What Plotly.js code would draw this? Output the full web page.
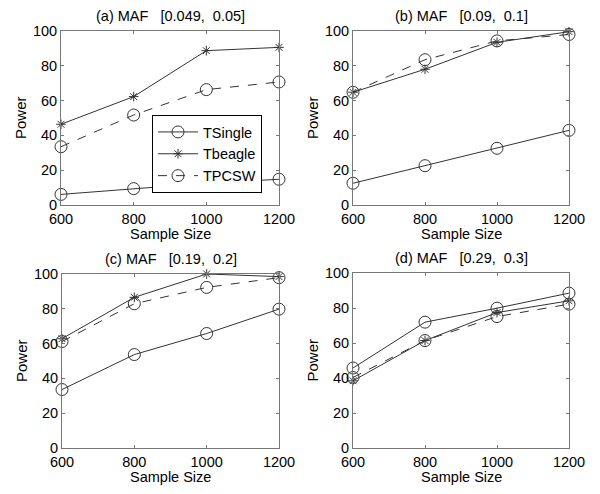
<!DOCTYPE html>
<html><head><meta charset="utf-8">
<script src="https://cdn.plot.ly/plotly-3.0.1.min.js"></script>
<style>body{margin:0;background:#fff}#c{width:600px;height:494px}</style>
</head><body><div id="c"></div>
<script>
const sampleSizes = [600, 800, 1000, 1200];
const panelTitles = ["(a) MAF   [0.049,  0.05]", "(b) MAF   [0.09,  0.1]", "(c) MAF   [0.19,  0.2]", "(d) MAF   [0.29,  0.3]"];
const seriesNames = ["TSingle", "Tbeagle", "TPCSW"];
const tsingle = [[6.1, 9.4, 12.5, 14.8], [12.5, 22.6, 32.6, 42.9], [33.6, 53.7, 65.8, 79.8], [45.7, 71.9, 79.9, 88.5]];
const tbeagle = [[46.4, 62.3, 88.7, 90.6], [64.8, 78.0, 93.5, 99.6], [62.8, 86.6, 100, 98.5], [38.4, 61.4, 77.4, 84.1]];
const tpcsw  = [[33.5, 51.7, 66.3, 70.7], [64.8, 83.5, 94.3, 98.0], [61.2, 82.9, 92.3, 97.9], [40.3, 61.4, 75.1, 82.2]];
const yTicks = [0, 20, 40, 60, 80, 100];

const W = 600, H = 494;
const boxes = [
  {l: 61, r: 279, t: 31, b: 205},
  {l: 353, r: 569, t: 31, b: 205},
  {l: 62, r: 279, t: 274, b: 448},
  {l: 353, r: 569, t: 273, b: 448}
];
const FONT = "Liberation Sans, Arial, sans-serif";
const traces = [];
const layout = {
  width: W, height: H, margin: {l: 0, r: 0, t: 0, b: 0},
  paper_bgcolor: "#fff", plot_bgcolor: "#fff",
  font: {family: FONT, color: "#000", size: 14},
  showlegend: true,
  legend: {x: 152/W, y: 1 - 115/H, xanchor: "left", yanchor: "top",
    bordercolor: "#000", borderwidth: 1, bgcolor: "#fff",
    font: {family: FONT, size: 14.5, color: "#000"}, itemwidth: 40, tracegroupgap: 0},
  annotations: []
};
const col = "#333";
for (let i = 0; i < 4; i++) {
  const bx = boxes[i];
  const sfx = i === 0 ? "" : String(i + 1);
  const xa = "x" + sfx, ya = "y" + sfx;
  const common = {showline: true, mirror: "ticks", linecolor: "#777", linewidth: 1,
    ticks: "inside", ticklen: 3, tickcolor: "#777", showgrid: false, zeroline: false,
    tickfont: {family: FONT, size: 14.5, color: "#000"}, fixedrange: true};
  layout["xaxis" + sfx] = Object.assign({}, common, {
    domain: [bx.l / W, bx.r / W], anchor: ya, range: [600, 1200],
    tickvals: sampleSizes, ticktext: sampleSizes.map(String), ticklabelstandoff: 1
  });
  layout["yaxis" + sfx] = Object.assign({}, common, {
    domain: [1 - bx.b / H, 1 - bx.t / H], anchor: xa, range: [0, 100],
    tickvals: yTicks, ticktext: yTicks.map(String)
  });
  const showL = i === 0;
  traces.push({x: sampleSizes, y: tsingle[i], xaxis: xa, yaxis: ya, name: seriesNames[0],
    mode: "lines+markers", showlegend: showL, cliponaxis: false,
    line: {color: col, width: 1}, marker: {symbol: "circle-open", size: 12, color: col, line: {width: 1}}});
  traces.push({x: sampleSizes, y: tbeagle[i], xaxis: xa, yaxis: ya, name: seriesNames[1],
    mode: "lines+markers", showlegend: showL, cliponaxis: false,
    line: {color: col, width: 1}, marker: {symbol: "asterisk-open", size: 8, color: col, line: {width: 1, color: col}}});
  traces.push({x: sampleSizes, y: tpcsw[i], xaxis: xa, yaxis: ya, name: seriesNames[2],
    mode: "lines+markers", showlegend: showL, cliponaxis: false,
    line: {color: col, width: 1, dash: "dash"}, marker: {symbol: "circle-open", size: 12, color: col, line: {width: 1}}});
  const cx = (bx.l + bx.r) / 2;
  layout.annotations.push({xref: "paper", yref: "paper", x: cx / W, y: 1 - (bx.t - 15) / H,
    text: panelTitles[i], showarrow: false, font: {family: FONT, size: 14.5, color: "#000"}, xanchor: "center", yanchor: "middle"});
  layout.annotations.push({xref: "paper", yref: "paper", x: cx / W, y: 1 - (bx.b + 29) / H,
    text: "Sample Size", showarrow: false, font: {family: FONT, size: 14.5, color: "#000"}, xanchor: "center", yanchor: "middle"});
  layout.annotations.push({xref: "paper", yref: "paper", x: (bx.l - 41) / W, y: 1 - ((bx.t + bx.b) / 2) / H,
    text: "Power", showarrow: false, textangle: -90, font: {family: FONT, size: 15, color: "#000"}, xanchor: "center", yanchor: "middle"});
}
Plotly.newPlot("c", traces, layout, {staticPlot: true});
</script></body></html>
